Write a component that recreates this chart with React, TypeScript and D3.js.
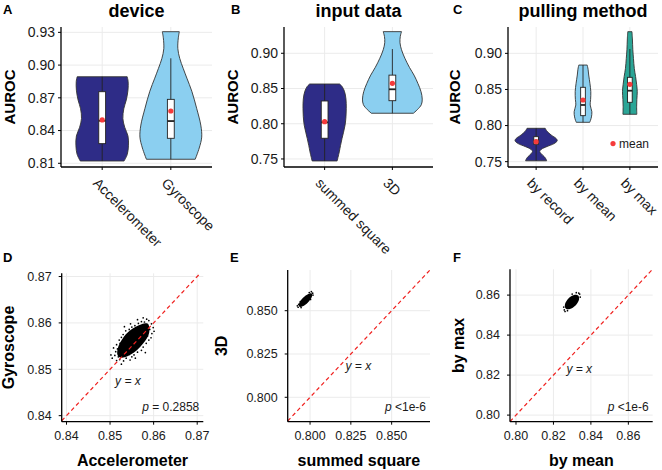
import React from "react";
import * as d3 from "d3";

const FONT = "'Liberation Sans', Arial, Helvetica, sans-serif";
const NAVY = "#2E2C87";
const SKY = "#8BCFF0";
const TEAL = "#2BA596";
const RED = "#F53B3B";
const GRID = "#EBEBEB";
const INK = "#1a1a1a";

// ---------- Panel A: device ----------
const deviceCats = ["Accelerometer", "Gyroscope"];
const deviceTicks = [0.81, 0.84, 0.87, 0.9, 0.93];
const accelDensity = [
  [0.8893, 0.81], [0.885, 0.84], [0.877, 0.835], [0.868, 0.78], [0.86, 0.7], [0.851, 0.67],
  [0.843, 0.73], [0.835, 0.835], [0.826, 0.85], [0.818, 0.81], [0.8121, 0.71],
];
const gyroDensity = [
  [0.9306, 0.275], [0.925, 0.243], [0.915, 0.227], [0.906, 0.29], [0.897, 0.4], [0.888, 0.52],
  [0.876, 0.68], [0.86, 0.84], [0.845, 0.97], [0.834, 1.0], [0.824, 0.92], [0.8137, 0.79],
];
const deviceQ1 = [0.828, 0.8329];
const deviceMedian = [0.849, 0.8487];
const deviceQ3 = [0.8756, 0.8686];
const deviceLo = [0.8121, 0.8137];
const deviceHi = [0.8893, 0.9062];
const deviceMean = [0.8497, 0.8579];

// ---------- Panel B: input data ----------
const inputCats = ["summed square", "3D"];
const inputTicks = [0.75, 0.8, 0.85, 0.9];
const summedDensity = [
  [0.8564, 0.49], [0.853, 0.57], [0.846, 0.65], [0.835, 0.7], [0.822, 0.71], [0.81, 0.7],
  [0.798, 0.67], [0.788, 0.62], [0.779, 0.57], [0.769, 0.52], [0.76, 0.48], [0.7472, 0.41],
];
const threeDDensity = [
  [0.9307, 0.3], [0.924, 0.26], [0.915, 0.25], [0.905, 0.3], [0.893, 0.41], [0.88, 0.56],
  [0.869, 0.71], [0.857, 0.84], [0.8455, 0.94], [0.835, 0.98], [0.827, 0.95], [0.82, 0.82],
  [0.8149, 0.69],
];
const inputQ1 = [0.7794, 0.8327];
const inputMedian = [0.802, 0.8489];
const inputQ3 = [0.8323, 0.869];
const inputLo = [0.7472, 0.8149];
const inputHi = [0.8564, 0.906];
const inputMean = [0.803, 0.8574];

// ---------- Panel C: pulling method ----------
const pullCats = ["by record", "by mean", "by max"];
const pullTicks = [0.75, 0.8, 0.85, 0.9];
const recordDensity = [
  [0.7962, 0.43], [0.792, 0.52], [0.787, 0.71], [0.782, 0.95], [0.779, 1.0], [0.775, 0.85],
  [0.771, 0.52], [0.767, 0.24], [0.764, 0.17], [0.761, 0.24], [0.757, 0.38], [0.754, 0.46],
  [0.7512, 0.5],
];
const byMeanDensity = [
  [0.8838, 0.2], [0.878, 0.24], [0.87, 0.27], [0.858, 0.33], [0.847, 0.37], [0.836, 0.36],
  [0.8285, 0.34], [0.8192, 0.42], [0.812, 0.4], [0.8077, 0.36], [0.8045, 0.32],
];
const byMaxDensity = [
  [0.93, 0.1], [0.92, 0.12], [0.905, 0.14], [0.893, 0.17], [0.879, 0.21], [0.868, 0.27],
  [0.857, 0.32], [0.847, 0.35], [0.836, 0.33], [0.826, 0.32], [0.8156, 0.33],
];
const pullQ1 = [0.774, 0.8137, 0.8322];
const pullMedian = [0.779, 0.8285, 0.8483];
const pullQ3 = [0.7846, 0.853, 0.8668];
const pullLo = [0.7512, 0.8045, 0.8156];
const pullHi = [0.7962, 0.8838, 0.906];
const pullMean = [0.7777, 0.8354, 0.8571];

// ---------- Panel D: Accelerometer vs Gyroscope ----------
const dTicks = [0.84, 0.85, 0.86, 0.87];
const dCore = [
  [0.8588, 0.8597], [0.8578, 0.8599], [0.8566, 0.8595], [0.8552, 0.8588], [0.8538, 0.8577],
  [0.8526, 0.8562], [0.8518, 0.8546], [0.8517, 0.8531], [0.8526, 0.8525], [0.854, 0.8528],
  [0.8555, 0.8536], [0.8569, 0.8548], [0.8582, 0.8563], [0.859, 0.858],
];
const dPoints = [
  [0.8505, 0.8524], [0.8511, 0.853], [0.8515, 0.8519], [0.8513, 0.8538], [0.8517, 0.8544],
  [0.8508, 0.8546], [0.8515, 0.8553], [0.8523, 0.8556], [0.8522, 0.8521], [0.8531, 0.8518],
  [0.8526, 0.8511], [0.8537, 0.8524], [0.8546, 0.852], [0.855, 0.8527], [0.8555, 0.8531],
  [0.8563, 0.8537], [0.8572, 0.8541], [0.8576, 0.8548], [0.8583, 0.8556], [0.8589, 0.8563],
  [0.8594, 0.8568], [0.8596, 0.8577], [0.8591, 0.8586], [0.8599, 0.859], [0.8595, 0.8598],
  [0.8589, 0.8605], [0.8584, 0.8608], [0.8579, 0.8602], [0.8572, 0.8603], [0.8565, 0.8599],
  [0.8557, 0.8594], [0.855, 0.8591], [0.8544, 0.8586], [0.8536, 0.8583], [0.853, 0.8575],
  [0.8526, 0.8569], [0.8521, 0.8563], [0.8533, 0.8592], [0.8547, 0.8598], [0.8563, 0.8607],
  [0.8576, 0.8611], [0.8601, 0.8582], [0.8502, 0.8531], [0.8558, 0.8524], [0.8581, 0.8536],
  [0.8529, 0.8541], [0.8519, 0.8527], [0.8544, 0.8532], [0.8586, 0.8572], [0.8562, 0.859],
];

// ---------- Panel E: summed square vs 3D ----------
const eTicks = [0.8, 0.825, 0.85];
const eCore = [
  [0.8011, 0.8598], [0.801, 0.8577], [0.7987, 0.8547], [0.7955, 0.8525], [0.7933, 0.8524],
  [0.7934, 0.8545], [0.7957, 0.8575], [0.7989, 0.8597],
];
const ePoints = [
  [0.7922, 0.8528], [0.7927, 0.852], [0.793, 0.8537], [0.8016, 0.8601], [0.8008, 0.861],
  [0.8018, 0.859], [0.7945, 0.8518], [0.7995, 0.8605], [0.794, 0.8552], [0.8003, 0.8565],
];

// ---------- Panel F: by mean vs by max ----------
const fTicks = [0.8, 0.82, 0.84, 0.86];
const fCore = [
  [0.8333, 0.8597], [0.8336, 0.8575], [0.8318, 0.8548], [0.8288, 0.853], [0.8265, 0.8533],
  [0.8262, 0.8555], [0.828, 0.8583], [0.831, 0.86],
];
const fPoints = [
  [0.8258, 0.8526], [0.8262, 0.8518], [0.8255, 0.854], [0.834, 0.8605], [0.8335, 0.861],
  [0.8343, 0.859], [0.8275, 0.8522], [0.8322, 0.8612], [0.83, 0.8605], [0.827, 0.856],
];

type VP = {
  left: number; right: number; top: number; bottom: number;
  cats: string[]; domain: [number, number]; ticks: number[];
  densities: number[][][]; fills: string[];
  q1: number[]; med: number[]; q3: number[]; lo: number[]; hi: number[]; mean: number[];
  title: string; letter: string; letterX: number; ylabX: number; legend?: boolean;
};

function ViolinPanel(p: VP) {
  const x = d3.scalePoint<string>().domain(p.cats).range([p.left, p.right]).padding(0.6);
  const y = d3.scaleLinear().domain(p.domain).range([p.bottom, p.top]);
  const step = x.step();
  const w = d3.scaleLinear().domain([0, 1]).range([0, 0.45 * step]);
  const bw = 0.1 * step;
  const fmt = d3.format(".2f");
  return (
    <g>
      {p.ticks.map((t) => (
        <line key={"gy" + t} x1={p.left} x2={p.right} y1={y(t)} y2={y(t)} stroke={GRID} strokeWidth={1} />
      ))}
      {p.cats.map((c) => (
        <line key={"gx" + c} x1={x(c)} x2={x(c)} y1={p.top} y2={p.bottom} stroke={GRID} strokeWidth={1} />
      ))}
      {p.cats.map((c, i) => {
        const cx = x(c) as number;
        const area = d3
          .area<number[]>()
          .y((d) => y(d[0]))
          .x0((d) => cx - w(d[1]))
          .x1((d) => cx + w(d[1]))
          .curve(d3.curveCatmullRom);
        return (
          <g key={c}>
            <path d={area(p.densities[i]) || ""} fill={p.fills[i]} stroke="#333" strokeWidth={0.9} />
            <line x1={cx} x2={cx} y1={y(p.hi[i])} y2={y(p.lo[i])} stroke="#222" strokeWidth={0.9} />
            <rect x={cx - bw / 2} y={y(p.q3[i])} width={bw} height={y(p.q1[i]) - y(p.q3[i])} fill="#fff" stroke="#222" strokeWidth={0.9} />
            <line x1={cx - bw / 2} x2={cx + bw / 2} y1={y(p.med[i])} y2={y(p.med[i])} stroke="#222" strokeWidth={1.8} />
            <circle cx={cx} cy={y(p.mean[i])} r={2.6} fill={RED} />
          </g>
        );
      })}
      <line x1={p.left} x2={p.left} y1={p.top} y2={p.bottom} stroke="#000" strokeWidth={1.3} />
      <line x1={p.left} x2={p.right} y1={p.bottom} y2={p.bottom} stroke="#000" strokeWidth={1.3} />
      {p.ticks.map((t) => (
        <g key={"ty" + t}>
          <line x1={p.left - 3} x2={p.left} y1={y(t)} y2={y(t)} stroke="#000" strokeWidth={1} />
          <text x={p.left - 6} y={y(t)} dy="0.35em" textAnchor="end" fontSize={14} fill={INK}>
            {fmt(t)}
          </text>
        </g>
      ))}
      {p.cats.map((c) => (
        <g key={"tx" + c}>
          <line x1={x(c)} x2={x(c)} y1={p.bottom} y2={p.bottom + 3} stroke="#000" strokeWidth={1} />
          <text transform={`translate(${(x(c) as number) - 10},${p.bottom + 17}) rotate(45)`} fontSize={14} fill={INK}>
            {c}
          </text>
        </g>
      ))}
      <text transform={`translate(${p.ylabX},${(p.top + p.bottom) / 2}) rotate(-90)`} textAnchor="middle" fontSize={15} fontWeight="bold" fill="#000">
        AUROC
      </text>
      <text x={(p.left + p.right) / 2} y={17} textAnchor="middle" fontSize={18} fontWeight="bold" fill="#000">
        {p.title}
      </text>
      <text x={p.letterX} y={14} fontSize={13} fontWeight="bold" fill="#000">
        {p.letter}
      </text>
      {p.legend && (
        <g>
          <circle cx={p.right - 45} cy={y(0.775)} r={2.6} fill={RED} />
          <text x={p.right - 39} y={y(0.775)} dy="0.35em" fontSize={12} fill={INK}>
            mean
          </text>
        </g>
      )}
    </g>
  );
}

type SP = {
  left: number; right: number; top: number; bottom: number;
  xDomain: [number, number]; yDomain: [number, number]; ticks: number[]; dec: number;
  core: number[][]; points: number[][];
  xLabel: string; yLabel: string; ylabX: number; letter: string; letterX: number;
  yx: [number, number]; pText: string;
};

function ScatterPanel(p: SP) {
  const x = d3.scaleLinear().domain(p.xDomain).range([p.left, p.right]);
  const y = d3.scaleLinear().domain(p.yDomain).range([p.bottom, p.top]);
  const fmt = d3.format(`.${p.dec}f`);
  const v0 = Math.max(p.xDomain[0], p.yDomain[0]);
  const v1 = Math.min(p.xDomain[1], p.yDomain[1]);
  const blob = d3
    .line<number[]>()
    .x((d) => x(d[0]))
    .y((d) => y(d[1]))
    .curve(d3.curveCardinalClosed);
  return (
    <g>
      {p.ticks.map((t) => (
        <g key={"g" + t}>
          <line x1={p.left} x2={p.right} y1={y(t)} y2={y(t)} stroke={GRID} strokeWidth={1} />
          <line x1={x(t)} x2={x(t)} y1={p.top} y2={p.bottom} stroke={GRID} strokeWidth={1} />
        </g>
      ))}
      <path d={blob(p.core) || ""} fill="#000" />
      {p.points.map((d, i) => (
        <circle key={i} cx={x(d[0])} cy={y(d[1])} r={0.85} fill="#000" />
      ))}
      <line x1={x(v0)} y1={y(v0)} x2={x(v1)} y2={y(v1)} stroke="#F0201E" strokeWidth={1.2} strokeDasharray="4 3" />
      <line x1={p.left} x2={p.left} y1={p.top} y2={p.bottom} stroke="#000" strokeWidth={1.3} />
      <line x1={p.left} x2={p.right} y1={p.bottom} y2={p.bottom} stroke="#000" strokeWidth={1.3} />
      {p.ticks.map((t) => (
        <g key={"t" + t}>
          <line x1={p.left - 3} x2={p.left} y1={y(t)} y2={y(t)} stroke="#000" strokeWidth={1} />
          <text x={p.left - 10} y={y(t)} dy="0.35em" textAnchor="end" fontSize={12.5} fill={INK}>
            {fmt(t)}
          </text>
          <line x1={x(t)} x2={x(t)} y1={p.bottom} y2={p.bottom + 3} stroke="#000" strokeWidth={1} />
          <text x={x(t)} y={p.bottom + 18} textAnchor="middle" fontSize={12.5} fill={INK}>
            {fmt(t)}
          </text>
        </g>
      ))}
      <text x={x(p.yx[0])} y={y(p.yx[1])} textAnchor="middle" fontSize={12} fontStyle="italic" fill={INK}>
        y = x
      </text>
      <text x={p.right - 4} y={p.bottom - 11} textAnchor="end" fontSize={12} fill={INK}>
        <tspan fontStyle="italic">p</tspan>
        {p.pText}
      </text>
      <text x={(p.left + p.right) / 2} y={466} textAnchor="middle" fontSize={16} fontWeight="bold" fill="#000">
        {p.xLabel}
      </text>
      <text transform={`translate(${p.ylabX},${(p.top + p.bottom) / 2}) rotate(-90)`} textAnchor="middle" fontSize={16} fontWeight="bold" fill="#000">
        {p.yLabel}
      </text>
      <text x={p.letterX} y={262} fontSize={13} fontWeight="bold" fill="#000">
        {p.letter}
      </text>
    </g>
  );
}

export default function App() {
  return (
    <div style={{ position: "absolute", left: 0, top: 0 }}>
      <svg width={662} height={470} style={{ display: "block", background: "#fff" }} fontFamily={FONT}>
        <ViolinPanel
          left={61} right={212} top={27} bottom={167}
          cats={deviceCats} domain={[0.8066, 0.9349]} ticks={deviceTicks}
          densities={[accelDensity, gyroDensity]} fills={[NAVY, SKY]}
          q1={deviceQ1} med={deviceMedian} q3={deviceQ3} lo={deviceLo} hi={deviceHi} mean={deviceMean}
          title="device" letter="A" letterX={3} ylabX={15}
        />
        <ViolinPanel
          left={284} right={433} top={27} bottom={167}
          cats={inputCats} domain={[0.7386, 0.9373]} ticks={inputTicks}
          densities={[summedDensity, threeDDensity]} fills={[NAVY, SKY]}
          q1={inputQ1} med={inputMedian} q3={inputQ3} lo={inputLo} hi={inputHi} mean={inputMean}
          title="input data" letter="B" letterX={231} ylabX={238}
        />
        <ViolinPanel
          left={508} right={658} top={27} bottom={167}
          cats={pullCats} domain={[0.7426, 0.9365]} ticks={pullTicks}
          densities={[recordDensity, byMeanDensity, byMaxDensity]} fills={[NAVY, SKY, TEAL]}
          q1={pullQ1} med={pullMedian} q3={pullQ3} lo={pullLo} hi={pullHi} mean={pullMean}
          title="pulling method" letter="C" letterX={453} ylabX={460} legend
        />
        <ScatterPanel
          left={61.7} right={203.3} top={273.3} bottom={421.7}
          xDomain={[0.8389, 0.8714]} yDomain={[0.8387, 0.8707]} ticks={dTicks} dec={2}
          core={dCore} points={dPoints}
          xLabel="Accelerometer" yLabel="Gyroscope" ylabX={13.5} letter="D" letterX={3}
          yx={[0.8541, 0.8467]} pText=" = 0.2858"
        />
        <ScatterPanel
          left={287.7} right={430} top={270} bottom={421.7}
          xDomain={[0.7863, 0.8735]} yDomain={[0.7859, 0.8735]} ticks={eTicks} dec={3}
          core={eCore} points={ePoints}
          xLabel="summed square" yLabel="3D" ylabX={227} letter="E" letterX={230}
          yx={[0.8296, 0.8157]} pText=" <1e-6"
        />
        <ScatterPanel
          left={510} right={652.7} top={269.3} bottom={421.7}
          xDomain={[0.7968, 0.873]} yDomain={[0.7967, 0.8729]} ticks={fTicks} dec={2}
          core={fCore} points={fPoints}
          xLabel="by mean" yLabel="by max" ylabX={464} letter="F" letterX={453}
          yx={[0.8338, 0.8213]} pText=" <1e-6"
        />
      </svg>
    </div>
  );
}
